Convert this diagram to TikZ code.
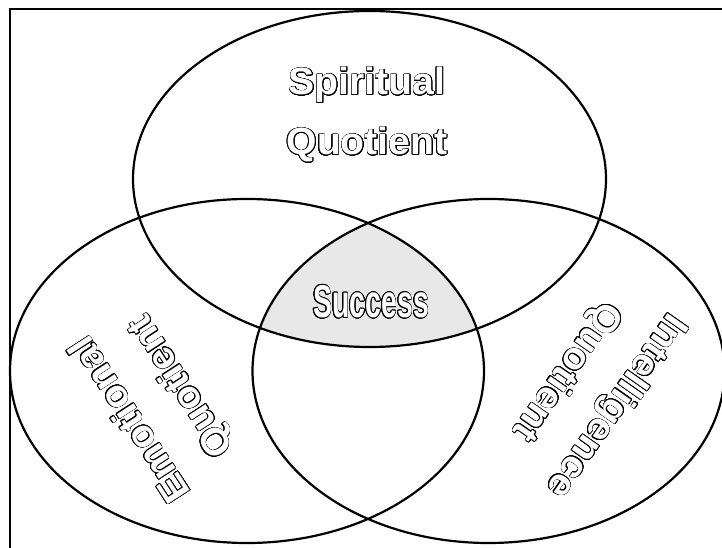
\documentclass[tikz,border=0pt]{standalone}
\usepackage{fontspec}
\setmainfont{Liberation Sans}
\newfontfamily\olfont{Liberation Sans}[FakeStretch=1.03]
\newfontfamily\narrowfont{Liberation Sans}[FakeStretch=0.62]
\usepackage[copies]{contour}
\contourlength{0.6pt}
\contournumber{24}
\newcommand{\olt}[1]{\contour{black}{#1}}
\definecolor{succfill}{HTML}{E8E8E8}
\begin{document}
\begin{tikzpicture}[x=1pt,y=1pt,
  venn/.style={draw=black, line width=2.2pt},
  olabel/.style={text=white, font=\olfont\bfseries\fontsize{38}{60}\selectfont, align=center, inner sep=0pt}]
\useasboundingbox (0,0) rectangle (722,548);
\clip (0,0) rectangle (722,548);
\fill[white] (0,0) rectangle (722,548);
\draw[line width=2pt] (10,-10) |- (740,539);
\begin{scope}
  \clip (369.5,369) ellipse [x radius=236.5, y radius=168];
  \clip (247,177) ellipse [x radius=237, y radius=172];
  \fill[succfill] (488.5,177) ellipse [x radius=236, y radius=172];
\end{scope}
\draw[venn] (369.5,369) ellipse [x radius=236.5, y radius=168];
\draw[venn] (247,177) ellipse [x radius=237, y radius=172];
\draw[venn] (488.5,177) ellipse [x radius=236, y radius=172];
\node[olabel] (sq) at (367,433) {\olt{Spiritual}\\\olt{Quotient}};
\node[olabel, font=\narrowfont\bfseries\fontsize{46}{50}\selectfont] (succ) at (371,246) {\olt{Success}};
\node[olabel, rotate=123] (eq) at (157,146) {\olt{Emotional}\\\olt{Quotient}};
\node[olabel, rotate=235] (iq) at (591,160) {\olt{Intelligence}\\\olt{Quotient}};
\end{tikzpicture}
\end{document}
